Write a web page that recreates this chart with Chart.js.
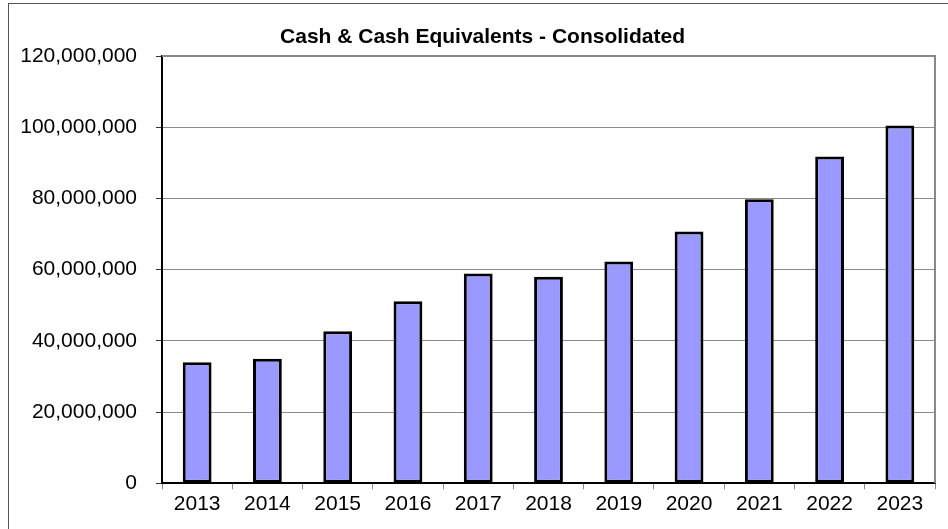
<!DOCTYPE html>
<html>
<head>
<meta charset="utf-8">
<script src="https://cdn.jsdelivr.net/npm/chart.js@4"></script>
<style>
    html, body { margin: 0; padding: 0; background: #fff; overflow: hidden; }
    #wrap { position: relative; width: 948px; height: 529px; }
</style>
</head>
<body>
<div id="wrap"><canvas id="cash-chart" width="948" height="529"></canvas></div>
<script>
    // -------------DATI----------------//
    var anni = ['2013', '2014', '2015', '2016', '2017', '2018', '2019', '2020', '2021', '2022', '2023'];
    var liquidita = [34.0, 35.0, 42.7, 51.1, 58.9, 58.0, 62.3, 70.7, 79.8, 91.8, 100.5];
    var titolo = 'Cash & Cash Equivalents - Consolidated';
    var tickY = [0, 20, 40, 60, 80, 100, 120];

    var valori = liquidita.map(function (v) { return v * 1000000; });
    var FONT = 'Liberation Sans, Arial, sans-serif';

    // cornice esterna, titolo e bordo grigio dell'area del grafico
    var cornice = {
        id: 'cornice',
        beforeDraw: function (chart) {
            var ctx = chart.ctx;
            ctx.save();
            ctx.strokeStyle = '#555';
            ctx.lineWidth = 1;
            ctx.strokeRect(8.5, 3.5, 1200, 1200);
            ctx.fillStyle = '#000';
            ctx.font = 'bold 21px ' + FONT;
            ctx.textAlign = 'center';
            ctx.textBaseline = 'middle';
            ctx.fillText(titolo, 482.5, 37);
            ctx.restore();
        },
        afterDatasetsDraw: function (chart) {
            var a = chart.chartArea;
            var ctx = chart.ctx;
            ctx.save();
            ctx.strokeStyle = '#888';
            ctx.lineWidth = 2;
            ctx.beginPath();
            ctx.moveTo(a.left, a.top);
            ctx.lineTo(a.right, a.top);
            ctx.lineTo(a.right, a.bottom);
            ctx.stroke();
            ctx.restore();
        }
    };

    var ctx = document.getElementById('cash-chart');
    var chart = new Chart(ctx, {
        type: 'bar',
        data: {
            labels: anni,
            datasets: [{
                data: valori,
                backgroundColor: '#9999ff',
                borderColor: '#000',
                borderWidth: 3,
                borderSkipped: false,
                categoryPercentage: 1,
                barPercentage: 0.41
            }]
        },
        options: {
            responsive: false,
            animation: false,
            layout: { padding: { left: 0, right: 13, top: 56, bottom: 0 } },
            plugins: {
                legend: { display: false },
                tooltip: { enabled: false },
                title: { display: false }
            },
            scales: {
                x: {
                    grid: { display: true, drawOnChartArea: false, tickLength: 6, color: '#888', offset: true },
                    border: { color: '#000', width: 2 },
                    ticks: {
                        color: '#000',
                        padding: 2,
                        maxRotation: 0,
                        font: { family: FONT, size: 21 }
                    },
                    afterFit: function (scale) { scale.height = 45.7; }
                },
                y: {
                    min: 0,
                    max: 120000000,
                    afterBuildTicks: function (scale) {
                        scale.ticks = tickY.map(function (v) { return { value: v * 1000000 }; });
                    },
                    grid: { color: '#8c8c8c', lineWidth: 1, tickLength: 6, tickColor: '#333' },
                    border: { color: '#000', width: 2 },
                    ticks: {
                        color: '#000',
                        padding: 19,
                        font: { family: FONT, size: 21 },
                        callback: function (v) { return Number(v).toLocaleString('en-US'); }
                    },
                    afterFit: function (scale) { scale.width = 162; }
                }
            }
        },
        plugins: [cornice]
    });
</script>
</body>
</html>
